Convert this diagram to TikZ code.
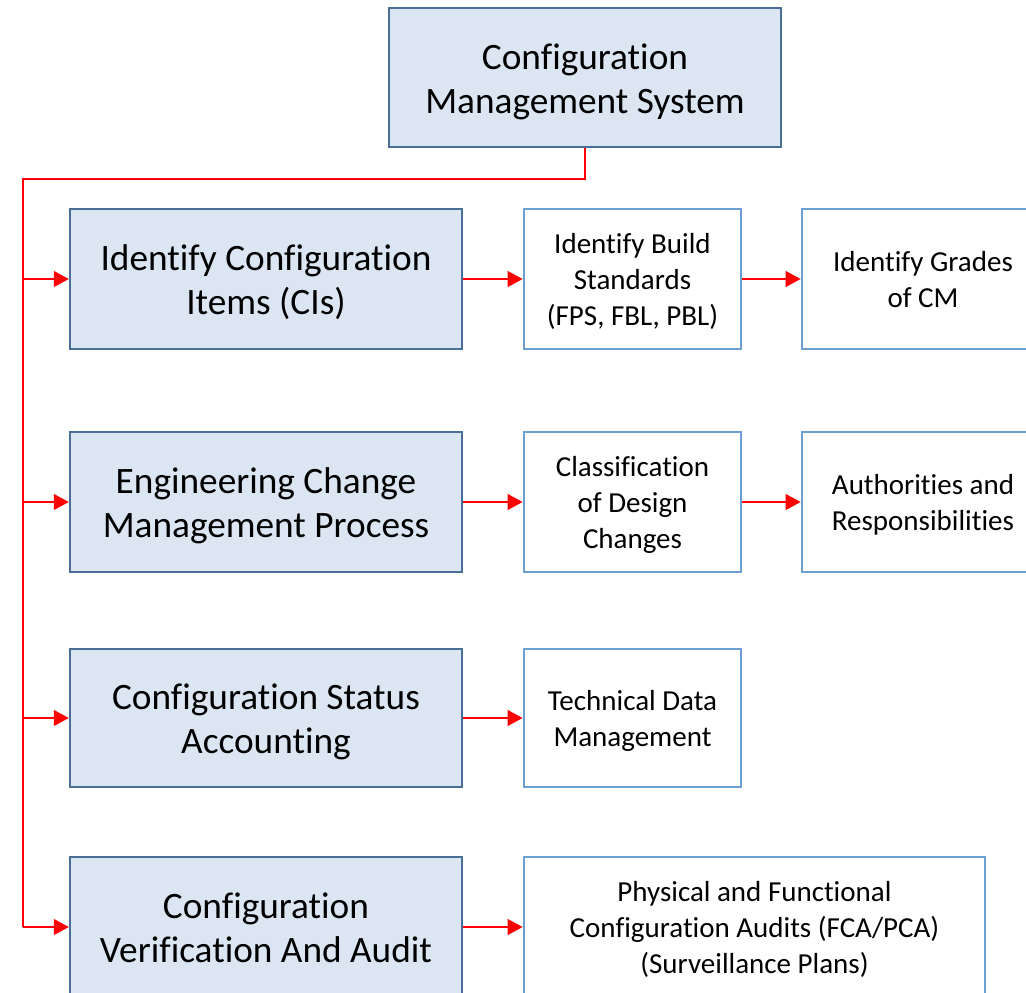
\documentclass[tikz,border=0pt]{standalone}
\usepackage{fontspec}
\setmainfont{Carlito}[Ligatures={NoCommon}]
\usetikzlibrary{arrows.meta}
\definecolor{mainfill}{HTML}{DCE6F2}
\definecolor{mainedge}{HTML}{4A6E96}
\definecolor{subedge}{HTML}{6C9ED2}
\definecolor{linkred}{HTML}{FF0000}
\newcommand\toprule{\rule{0pt}{40pt}}
\newcommand\botrule{\rule[-13pt]{0pt}{0pt}}
\newcommand\stoprule{\rule{0pt}{30pt}}
\newcommand\sbotrule{\rule[-10pt]{0pt}{0pt}}
\tikzset{
  mainbox/.style={draw=mainedge, fill=mainfill, line width=2.5pt, inner sep=0pt,
    minimum width=392pt, minimum height=140pt, align=center,
    font=\fontsize{37.3}{44}\selectfont},
  subbox/.style={draw=subedge, fill=white, line width=2.8pt, inner sep=0pt,
    minimum width=217pt, minimum height=140pt, align=center,
    font=\fontsize{29}{36}\selectfont},
  trunk/.style={draw=linkred, line width=2pt},
  arr/.style={draw=linkred, line width=1.1pt, -{Triangle[length=15pt,width=16pt]}}
}
\begin{document}
\begin{tikzpicture}[x=1pt,y=-1pt]
\useasboundingbox (0,0) rectangle (1026,993);
\clip (0,0) rectangle (1026,993);
% top
\node[mainbox, minimum height=139pt] (top) at (585,77.5) {\toprule Configuration\\Management System\botrule};
% left column
\node[mainbox] (b1) at (266,279) {\toprule Identify Configuration\\Items (CIs)\botrule};
\node[mainbox] (b2) at (266,502) {\toprule Engineering Change\\Management Process\botrule};
\node[mainbox, minimum height=138pt] (b3) at (266,718) {\toprule Configuration Status\\Accounting\botrule};
\node[mainbox] (b4) at (266,927) {\toprule Configuration\\Verification And Audit\botrule};
% middle column
\node[subbox] (m1) at (632.5,279) {\stoprule Identify Build\\Standards\\(FPS, FBL, PBL)\sbotrule};
\node[subbox] (m2) at (632.5,502) {\stoprule Classification\\of Design\\Changes\sbotrule};
\node[subbox, minimum height=138pt] (m3) at (632.5,718) {\stoprule Technical Data\\Management\sbotrule};
\node[subbox, minimum width=461pt] (m4) at (754.5,927) {\stoprule Physical and Functional\\Configuration Audits (FCA/PCA)\\(Surveillance Plans)\sbotrule};
% right column
\node[subbox, minimum width=242pt] (r1) at (923,279) {\stoprule Identify Grades\\of CM\sbotrule};
\node[subbox, minimum width=242pt] (r2) at (923,502) {\stoprule Authorities and\\Responsibilities\sbotrule};
% trunk
\coordinate (j0) at (23,179);
\draw[trunk] (top.south) |- (j0) -- (j0 |- b4.west);
% branch arrows
\draw[arr] (j0 |- b1.west) -- (b1.west);
\draw[arr] (j0 |- b2.west) -- (b2.west);
\draw[arr] (j0 |- b3.west) -- (b3.west);
\draw[arr] (j0 |- b4.west) -- (b4.west);
% horizontal arrows
\draw[arr] (b1.east) -- (m1.west);
\draw[arr] (b2.east) -- (m2.west);
\draw[arr] (b3.east) -- (m3.west);
\draw[arr] (b4.east) -- (m4.west);
\draw[arr] (m1.east) -- (r1.west);
\draw[arr] (m2.east) -- (r2.west);
\end{tikzpicture}
\end{document}
